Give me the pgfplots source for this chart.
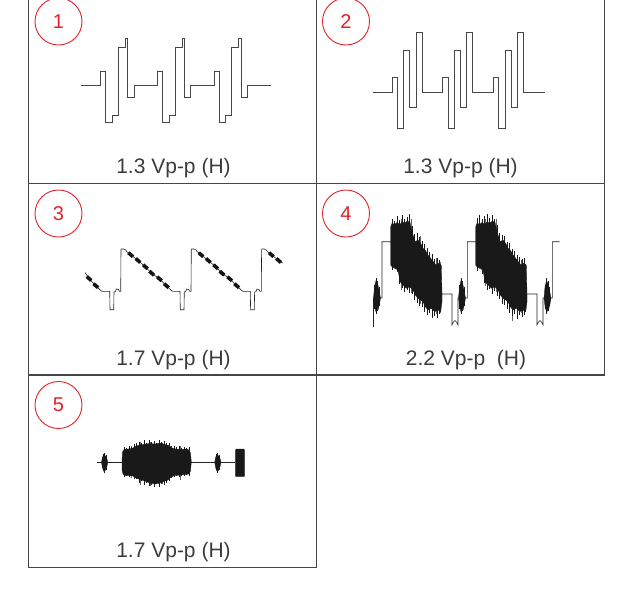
\documentclass[border=0pt]{standalone}
\usepackage{pgfplots}
\pgfplotsset{compat=1.18}
\usepackage{fontspec}
\setmainfont{Liberation Sans}
\definecolor{numred}{RGB}{228,32,40}
\definecolor{framegray}{RGB}{70,70,70}
\definecolor{txtgray}{RGB}{60,60,60}
\tikzset{
  wave/.style={black!72, line width=0.9pt},
  trace/.style={black!85, line width=0.6pt},
  burst/.style={fill=black!90, draw=black!90, line width=0.3pt},
  streak/.style={black!60, line width=0.5pt},
  comb/.style={black!90, line width=0.7pt},
  lbl/.style={txtgray, anchor=base, font=\fontsize{21}{25}\selectfont},
  num/.style={numred, font=\fontsize{20}{22}\selectfont},
  ring/.style={numred, line width=0.9pt},
}
\begin{document}
\begin{tikzpicture}
\useasboundingbox (0,0) rectangle (634pt,590pt);
\begin{axis}[
  at={(0,0)}, anchor=south west,
  scale only axis, width=634pt, height=590pt,
  xmin=0, xmax=634, ymin=0, ymax=590, y dir=reverse,
  hide axis,
]
% panel frames
\draw[framegray, line width=1.3pt] (28.7,-9) -- (28.7,567.5) -- (316.7,567.5) -- (316.7,-9);
\draw[framegray, line width=1.3pt] (604.3,-9) -- (604.3,375) -- (28.7,375);
\draw[framegray, line width=1.3pt] (28.7,183.5) -- (604.3,183.5);

% numbered circles
\draw[ring] (58.5,21.5) circle [radius=23.5pt];
\draw[ring] (346,21.5) circle [radius=23.5pt];
\draw[ring] (58.5,213.5) circle [radius=23.5pt];
\draw[ring] (346,213.5) circle [radius=23.5pt];
\draw[ring] (58.5,405) circle [radius=23.5pt];
\node[num] at (58.5,21.5) {1};
\node[num] at (346,21.5) {2};
\node[num] at (58.5,213.5) {3};
\node[num] at (346,213.5) {4};
\node[num] at (58.5,405) {5};

% labels
\node[lbl] at (173.5,173.5) {1.3 Vp-p (H)};
\node[lbl] at (460.5,173.5) {1.3 Vp-p (H)};
\node[lbl] at (173.5,365) {1.7 Vp-p (H)};
\node[lbl] at (466,365) {2.2 Vp-p\ \ (H)};
\node[lbl] at (173.5,557.5) {1.7 Vp-p (H)};

% panel 1
\addplot[wave] coordinates {
(81.3,85) (100.7,85) (100.7,71.7) (105.7,71.7) (105.7,122.3) (112.3,122.3) (112.3,115.7) (118.3,115.7) (118.3,47.7) (125.3,47.7) (125.3,38.3) (127.7,38.3) (127.7,97.3) (134,97.3) (134,85)
(157.4,85) (157.4,71.7) (162.4,71.7) (162.4,122.3) (169,122.3) (169,115.7) (175,115.7) (175,47.7) (182,47.7) (182,38.3) (184.4,38.3) (184.4,97.3) (190.7,97.3) (190.7,85)
(214,85) (214,71.7) (219,71.7) (219,122.3) (225.6,122.3) (225.6,115.7) (231.6,115.7) (231.6,47.7) (238.6,47.7) (238.6,38.3) (241,38.3) (241,97.3) (247.3,97.3) (247.3,85) (271.3,85)};

% panel 2
\addplot[wave] coordinates {
(373.3,92.7) (392,92.7) (392,77.7) (397.3,77.7) (397.3,128.3) (403.7,128.3) (403.7,50.7) (409.7,50.7) (409.7,107.7) (416,107.7) (416,32.3) (422,32.3) (422,92.7)
(442.7,92.7) (442.7,77.7) (448,77.7) (448,128.3) (454.4,128.3) (454.4,50.7) (460.4,50.7) (460.4,107.7) (466.7,107.7) (466.7,32.3) (472.7,32.3) (472.7,92.7)
(493.3,92.7) (493.3,77.7) (498.6,77.7) (498.6,128.3) (505,128.3) (505,50.7) (511,50.7) (511,107.7) (517.3,107.7) (517.3,32.3) (523.3,32.3) (523.3,92.7) (544.7,92.7)};

% panel 3
\addplot[trace] coordinates {
(85,272.5) (89,278.5) (95.8,285.7) (101,290.8) (102,291.3) (109.7,291.3) (110,309.7) (113.7,309.7) (114,292) (115.4,291.5) (116.4,289) (118.4,289.5) (119.4,291.3) (120.7,291.3)
(121,249.5) (121.3,249) (123.7,249) (125.7,250) (126.7,251.5) (130.7,254.7) (138,260.5) (145.4,266.8) (151.7,273.2) (159.4,278.8) (166.4,285.7) (171.7,290.8) (172.7,291.3) (180,291.3) (180.3,309.7) (184,309.7) (184.3,292) (185.7,291.5) (186.7,289) (188.7,289.5) (189.7,291.3) (191,291.3)
(191.3,249.5) (191.6,249) (194,249) (196,250) (197,251.5) (201,254.7) (208.3,260.5) (215.7,266.8) (222,273.2) (229.7,278.8) (236.7,285.7) (242,290.8) (243,291.3) (250.3,291.3) (250.6,309.7) (254.3,309.7) (254.6,292) (256,291.5) (257,289) (259,289.5) (260,291.3) (261.3,291.3)
(261.6,249.5) (261.9,249) (264.3,249) (266.3,250) (267.3,251.5) (271.3,254.7) (278.6,260.5) (282.7,263)};
\addplot[black!92, line width=3.6pt, unbounded coords=jump] coordinates {
(86.7,276.5) (91.3,280.5) (0,nan) (93.5,283.7) (98.1,287.7) (0,nan)
(128.4,252.7) (133,256.7) (0,nan) (135.7,258.5) (140.3,262.5) (0,nan) (143.1,264.8) (147.7,268.8) (0,nan)
(149.4,271.2) (154,275.2) (0,nan) (157.1,276.8) (161.7,280.8) (0,nan) (164.1,283.7) (168.7,287.7) (0,nan)
(198.7,252.7) (203.3,256.7) (0,nan) (206,258.5) (210.6,262.5) (0,nan) (213.4,264.8) (218,268.8) (0,nan)
(219.7,271.2) (224.3,275.2) (0,nan) (227.4,276.8) (232,280.8) (0,nan) (234.4,283.7) (239,287.7) (0,nan)
(269,252.7) (273.6,256.7) (0,nan) (276.3,258.5) (280.9,262.5)};

% panel 4
\addplot[trace] coordinates {
(373.5,327) (373.5,298) (382,298) (382,241.7) (390.7,241.7) (442,294) (452,294) (452,325) (453.5,322) (455,320.5) (456.5,322) (458,325) (458,298)
(467.3,298) (467.3,241.7) (475.7,241.7) (527,294) (537,294) (537,325) (538.5,322) (540,320.5) (541.5,322) (543,325) (543,298) (552.3,298) (552.3,241.7) (559.7,241.7)};
\addplot[streak, unbounded coords=jump] coordinates {
(401.3,219) (401.3,290) (0,nan) (411.3,219) (411.3,293) (0,nan) (420,236) (420,304) (0,nan)
(436.3,258) (436.3,313.5) (0,nan) (440.7,262) (440.7,313) (0,nan) (485.3,219) (485.3,286) (0,nan)
(496,219) (496,292) (0,nan) (512,262) (512,321) (0,nan) (521,260) (521,313)};
\addplot[burst] coordinates {
(390.7,226.7) (392,223.3) (394.7,224.3) (397.3,222.3) (399.7,225) (402,221.7) (404.7,223.3) (407.3,221) (410,222.3) (411.3,228.3) (413,235) (415.3,241.7) (418,240) (420.7,243.3) (423,248.3) (425.3,250) (428,255) (430.7,258.3) (433.3,261.7) (436,265) (438.7,263.3) (441.3,265) (442,293.3)
(442,301.7) (440.7,311.7) (438,310) (434.7,311.7) (431.3,308.3) (428,310) (425.3,306.7) (423,301.7) (420.7,300) (418,298.3) (415.3,295) (413,290) (409.7,286.7) (406.3,288.3) (403,285) (400,281.7) (398,270) (394.7,268.3) (392,266.7) (390.7,265)} -- cycle;
\addplot[burst] coordinates {
(475.7,226.7) (477,223.3) (479.7,224.3) (482.3,222.3) (484.7,225) (487,221.7) (489.7,223.3) (492.3,221) (495,222.3) (496.3,228.3) (498,235) (500.3,241.7) (503,240) (505.7,243.3) (508,248.3) (510.3,250) (513,255) (515.7,258.3) (518.3,261.7) (521,265) (523.7,263.3) (526.3,265) (527,293.3)
(527,301.7) (525.7,311.7) (523,310) (519.7,311.7) (516.3,308.3) (513,310) (510.3,306.7) (508,301.7) (505.7,300) (503,298.3) (500.3,295) (498,290) (494.7,286.7) (491.3,288.3) (488,285) (485,281.7) (483,270) (479.7,268.3) (477,266.7) (475.7,265)} -- cycle;
\addplot[comb, unbounded coords=jump] coordinates {
(392,219) (392,270) (0,nan) (394.5,221) (394.5,267) (0,nan) (397,216) (397,272) (0,nan) (399.5,220) (399.5,284) (0,nan)
(402,215) (402,288) (0,nan) (404.5,219) (404.5,292) (0,nan) (407,217) (407,290) (0,nan) (409.5,214) (409.5,293) (0,nan)
(412,226) (412,294) (0,nan) (414.5,234) (414.5,300) (0,nan) (417,233) (417,303) (0,nan) (419.5,237) (419.5,306) (0,nan)
(422,241) (422,307) (0,nan) (424.5,244) (424.5,312) (0,nan) (427,248) (427,315) (0,nan) (429.5,252) (429.5,313) (0,nan)
(432,254) (432,318) (0,nan) (434.5,259) (434.5,316) (0,nan) (437,258) (437,318) (0,nan) (439.5,260) (439.5,314) (0,nan)
(477,218) (477,271) (0,nan) (479.5,215) (479.5,268) (0,nan) (482,219) (482,274) (0,nan) (484.5,216) (484.5,283) (0,nan)
(487,214) (487,290) (0,nan) (489.5,218) (489.5,289) (0,nan) (492,215) (492,294) (0,nan) (494.5,219) (494.5,291) (0,nan)
(497,225) (497,296) (0,nan) (499.5,233) (499.5,299) (0,nan) (502,235) (502,304) (0,nan) (504.5,236) (504.5,305) (0,nan)
(507,242) (507,309) (0,nan) (509.5,243) (509.5,313) (0,nan) (512,249) (512,316) (0,nan) (514.5,251) (514.5,314) (0,nan)
(517,255) (517,319) (0,nan) (519.5,257) (519.5,315) (0,nan) (522,259) (522,317) (0,nan) (524.5,258) (524.5,315)};
\addplot[burst] coordinates {(373.5,298) (374.5,287) (376,280.5) (378,285) (379.5,293) (380.5,298) (379.5,304) (378,310) (376,312) (374.5,306)} -- cycle;
\addplot[burst] coordinates {(458.5,298) (459.5,287) (461,280.5) (463,285) (464.5,293) (465.5,298) (464.5,304) (463,310) (461,312) (459.5,306)} -- cycle;
\addplot[burst] coordinates {(544,298) (545,287) (546.5,280.5) (548.5,285) (550,293) (551,298) (550,304) (548.5,310) (546.5,312) (545,306)} -- cycle;
\addplot[comb, unbounded coords=jump] coordinates {
(374.5,285) (374.5,309) (0,nan) (376,278) (376,314) (0,nan) (377.5,281) (377.5,311) (0,nan) (379,287) (379,306) (0,nan)
(459.5,285) (459.5,309) (0,nan) (461,278) (461,314) (0,nan) (462.5,281) (462.5,311) (0,nan) (464,287) (464,306) (0,nan)
(545,285) (545,309) (0,nan) (546.5,278) (546.5,314) (0,nan) (548,281) (548,311) (0,nan) (549.5,287) (549.5,306)};

% panel 5
\addplot[trace] coordinates {(97,462.3) (235.3,462.3)};
\addplot[streak, unbounded coords=jump] coordinates {
(131,446) (131,478) (0,nan) (140,441.5) (140,484.5) (0,nan) (150,442) (150,485.5) (0,nan)
(162,442.5) (162,484) (0,nan) (180,446) (180,480)};
\addplot[burst] coordinates {
(122,462) (122.5,452) (124,449.5) (128,449) (133,448) (136,446) (140,445) (145,444) (150,443.5) (155,444) (160,443) (165,444.5) (169,445.5) (172,448) (176,449) (181,449.5) (186,449) (189,450) (190.5,453) (191.3,462)
(190.5,471) (189,474) (185,474.5) (180,475) (175,475.5) (171,477) (168,480) (165,481) (160,483) (155,484) (150,483) (145,481) (140,479.5) (136,478) (133,476) (130,475.5) (125,475.5) (123,474) (122,470)} -- cycle;
\addplot[comb, unbounded coords=jump] coordinates {
(124,447) (124,477) (0,nan) (126.5,448) (126.5,476) (0,nan) (129,446) (129,477) (0,nan) (131.5,447) (131.5,476) (0,nan)
(134,444) (134,479) (0,nan) (136.5,443) (136.5,479) (0,nan) (139,442) (139,483) (0,nan) (141.5,443) (141.5,481) (0,nan)
(144,440) (144,485) (0,nan) (146.5,443) (146.5,483) (0,nan) (149,440) (149,486) (0,nan) (151.5,442) (151.5,485) (0,nan)
(154,441) (154,487) (0,nan) (156.5,443) (156.5,484) (0,nan) (159,440) (159,487) (0,nan) (161.5,442) (161.5,484) (0,nan)
(164,441) (164,485) (0,nan) (166.5,443) (166.5,483) (0,nan) (169,443) (169,481) (0,nan) (171.5,446) (171.5,478) (0,nan)
(174,446) (174,477) (0,nan) (176.5,447) (176.5,476) (0,nan) (179,446) (179,477) (0,nan) (181.5,448) (181.5,476) (0,nan)
(184,447) (184,476) (0,nan) (186.5,448) (186.5,475) (0,nan) (189,447) (189,476) (0,nan)
(103,454) (103,470) (0,nan) (104.5,452.5) (104.5,472.5) (0,nan) (106,454.5) (106,470) (0,nan)
(216.2,454) (216.2,470) (0,nan) (217.7,452.5) (217.7,472.5) (0,nan) (219.2,454.5) (219.2,470)};
\addplot[burst] coordinates {(101.5,462.3) (102.5,457) (104,455) (105.5,456) (107,459) (107.8,462.3) (107,466) (105.5,470) (104,471.7) (102.5,468)} -- cycle;
\addplot[burst] coordinates {(214.7,462.3) (215.7,457) (217.2,455) (218.7,456) (220.2,459) (221,462.3) (220.2,466) (218.7,470) (217.2,471.7) (215.7,468)} -- cycle;
\addplot[burst] coordinates {(235.3,451) (236,449) (244,449) (244.7,451) (244.7,475) (244,476.7) (236,476.7) (235.3,475)} -- cycle;
\end{axis}
\end{tikzpicture}
\end{document}
